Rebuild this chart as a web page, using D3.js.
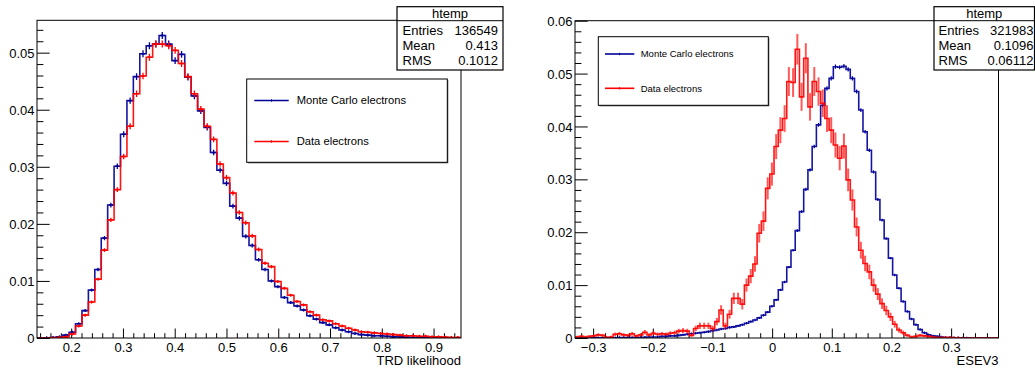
<!DOCTYPE html>
<html><head><meta charset="utf-8">
<script src="https://cdn.jsdelivr.net/npm/d3@7"></script>
<style>
body{margin:0;background:#fff;}
svg text{font-family:"Liberation Sans", Arial, Helvetica, sans-serif;fill:#000;}
</style></head><body>
<svg id="c" width="1035" height="369"></svg>
<script>
// ---------------- DATA ----------------
const legendLabels = ["Monte Carlo electrons", "Data electrons"];

// Left: TRD likelihood, 66 bins
const leftBinRange = [0.134, 0.953];
const leftMC = [0,0.00005,0.0001,0.0002,0.0005,0.001,0.0025,0.0048,0.0084,0.012,
  0.0175,0.0233,0.0301,0.0357,0.0416,0.0458,0.0498,0.0512,0.0515,0.053,
  0.0515,0.0486,0.0497,0.0457,0.0424,0.0398,0.0369,0.0325,0.0294,0.0271,
  0.0231,0.021,0.0178,0.0162,0.0137,0.012,0.01,0.009,0.0071,0.0062,
  0.0056,0.0049,0.0039,0.0033,0.0027,0.0023,0.0018,0.0014,0.0011,0.0008,
  0.0006,0.0005,0.0004,0.0004,0.0003,0.0002,0.0002,0.00015,0.0001,0.0001,
  0.0001,0.00005,0.00005,0.00003,0.00003,0.00002];
const leftData = [0,0,0.00005,0.0001,0.0002,0.0007,0.0021,0.004,0.0063,0.0103,
  0.0154,0.0207,0.026,0.0318,0.0371,0.0428,0.0459,0.0492,0.0515,0.0515,
  0.0512,0.0504,0.0481,0.0458,0.0428,0.0401,0.0371,0.0348,0.0305,0.0281,
  0.0254,0.022,0.0202,0.0179,0.0155,0.0131,0.0125,0.0099,0.0087,0.0075,
  0.0064,0.0058,0.0046,0.004,0.0032,0.003,0.0025,0.0021,0.0017,0.0014,
  0.0011,0.001,0.0009,0.0008,0.0007,0.0006,0.0005,0.0004,0.0004,0.0003,
  0.0003,0.0002,0.0002,0.00015,0.0001,0.0001];
const leftXTicks = [0.2,0.3,0.4,0.5,0.6,0.7,0.8,0.9];
const leftYTicks = [0,0.01,0.02,0.03,0.04,0.05];
const leftYMax = 0.05567;
const leftXTitle = "TRD likelihood";
const leftStats = [["Entries","136549"],["Mean","0.413"],["RMS","0.1012"]];
const leftEntries = 136549;

// Right: ESEV3, 100 bins
const rightBinRange = [-0.3304, 0.3794];
const rightMC = [0,0,0,0,0.00005,0.00005,0.00005,0.00005,0.00005,0.00005,
  0.0001,0.0001,0.0001,0.0001,0.0001,0.0001,0.00015,0.0002,0.0002,0.0002,
  0.0003,0.0003,0.0004,0.0004,0.0005,0.0006,0.0007,0.0008,0.0009,0.001,
  0.0011,0.0012,0.0014,0.0015,0.0017,0.0018,0.002,0.0021,0.0023,0.0025,
  0.0028,0.0031,0.0034,0.0038,0.0043,0.0049,0.006,0.0072,0.0091,0.0106,
  0.0134,0.0166,0.0203,0.0239,0.0281,0.0318,0.0362,0.0403,0.044,0.0472,
  0.0491,0.0513,0.0512,0.0514,0.0508,0.0491,0.0466,0.0431,0.039,0.0355,
  0.0314,0.0262,0.0223,0.0188,0.0151,0.0119,0.0094,0.0069,0.005,0.0036,
  0.0025,0.0016,0.001,0.0006,0.0004,0.0003,0.0002,0.0001,0.0001,0.00005,
  0.00005,0.00003,0.00002,0,0,0,0,0,0,0];
const rightData = [0.0002,0.0003,0.0002,0.0003,0.0004,0.0006,0.0005,0.0001,0.0002,0.0007,
  0.0008,0.0006,0.0005,0.0008,0.0004,0.0006,0.0011,0.0006,0.0009,0.0007,
  0.0008,0.0007,0.0009,0.001,0.0013,0.0014,0.0013,0.0005,0.0018,0.0023,
  0.0023,0.0023,0.0018,0.0031,0.0053,0.0023,0.0045,0.0075,0.0075,0.0064,
  0.01,0.0117,0.014,0.0198,0.0221,0.0283,0.031,0.0362,0.0393,0.0415,
  0.0485,0.0483,0.0546,0.0456,0.0529,0.0437,0.0485,0.0466,0.0444,0.0415,
  0.0393,0.0365,0.034,0.0363,0.0299,0.0261,0.021,0.0166,0.0141,0.0125,
  0.01,0.0083,0.0065,0.0052,0.004,0.0026,0.0015,0.001,0.0005,0.0002,
  0.0003,0.0005,0.0004,0.0003,0.0002,0.0001,0.0001,0.0001,0.0001,0.00005,
  0.00005,0,0,0,0,0,0,0,0,0];
const rightXTicks = [-0.3,-0.2,-0.1,0,0.1,0.2,0.3];
const rightYTicks = [0,0.01,0.02,0.03,0.04,0.05,0.06];
const rightYMax = 0.06;
const rightXTitle = "ESEV3";
const rightStats = [["Entries","321983"],["Mean","0.1096"],["RMS","0.06112"]];
const rightEntries = 321983;
const rightDataEntries = 6500; // estimated from error bar size

// ---------------- DRAW ----------------
const svg = d3.select("#c");
const BLUE = "#000099", RED = "#ff0000";
const fmt = d3.format("~g");

function drawPanel(c) {
  const g = svg.append("g");
  const x = d3.scaleLinear().domain(c.binRange).range([c.frame.x0, c.frame.x1]);
  const y = d3.scaleLinear().domain([0, c.yMax]).range([c.frame.y1, c.frame.y0]);
  const nb = c.mc.length;
  const w = (c.binRange[1] - c.binRange[0]) / nb;
  const edges = d3.range(nb + 1).map(i => c.binRange[0] + i * w);

  const clipId = "clip" + c.id;
  svg.append("clipPath").attr("id", clipId).append("rect")
    .attr("x", c.frame.x0).attr("y", c.frame.y0)
    .attr("width", c.frame.x1 - c.frame.x0).attr("height", c.frame.y1 - c.frame.y0);

  const xMinor = d3.range(Math.ceil(c.binRange[0] / 0.02 - 1e-6), Math.floor(c.binRange[1] / 0.02 + 1e-6) + 1)
    .map(k => +(k * 0.02).toFixed(4)).filter(v => !c.xTicks.some(t => Math.abs(t - v) < 1e-6));
  const yMinor = d3.range(0, Math.floor(c.yMax / 0.002 + 1e-6) + 1)
    .map(k => +(k * 0.002).toFixed(4)).filter(v => !c.yTicks.some(t => Math.abs(t - v) < 1e-6));

  const ax = g.append("g").attr("transform", `translate(0,${c.frame.y1})`)
    .call(d3.axisBottom(x).tickValues(c.xTicks).tickSize(-9.5).tickPadding(4.3).tickFormat(fmt));
  const axm = g.append("g").attr("transform", `translate(0,${c.frame.y1})`)
    .call(d3.axisBottom(x).tickValues(xMinor).tickSize(-4.8).tickFormat(""));
  const ay = g.append("g").attr("transform", `translate(${c.frame.x0},0)`)
    .call(d3.axisLeft(y).tickValues(c.yTicks).tickSize(-12.7).tickPadding(2.5).tickFormat(fmt));
  const aym = g.append("g").attr("transform", `translate(${c.frame.x0},0)`)
    .call(d3.axisLeft(y).tickValues(yMinor).tickSize(-6.4).tickFormat(""));
  [ax, axm, ay, aym].forEach(a => {
    a.select(".domain").remove();
    a.selectAll("line").attr("stroke", "#000").attr("stroke-width", 1);
    a.selectAll("text").attr("font-size", 13).attr("font-family", "Liberation Sans, Arial, sans-serif").attr("fill", "#000");
  });
  ay.selectAll("text").attr("dy", "0.35em");

  const line = d3.line().x(d => x(d[0])).y(d => y(d[1])).curve(d3.curveStepAfter);
  const series = [
    {vals: c.mc, color: BLUE, n: c.nMC, err: c.mcErr},
    {vals: c.data, color: RED, n: c.nData, err: c.dataErr}
  ];
  const hg = g.append("g").attr("clip-path", `url(#${clipId})`);
  series.forEach(s => {
    const pts = s.vals.map((v, i) => [edges[i], v]);
    pts.push([edges[nb], s.vals[nb - 1]]);
    const eg = hg.append("g");
    s.vals.forEach((v, i) => {
      if (v <= 0) return;
      const cx = x((edges[i] + edges[i + 1]) / 2);
      const e = Math.sqrt(v / s.n);
      const half = Math.max(s.err.minHalf, y(v) - y(v + e));
      eg.append("line").attr("x1", cx).attr("x2", cx)
        .attr("y1", y(v) - half).attr("y2", y(v) + half)
        .attr("stroke", s.color).attr("stroke-width", s.err.width).attr("opacity", s.err.opacity);
      if (s.err.hx > 0) {
        eg.append("line").attr("x1", cx - s.err.hx).attr("x2", cx + s.err.hx)
          .attr("y1", y(v)).attr("y2", y(v))
          .attr("stroke", s.color).attr("stroke-width", 1.4);
      }
    });
    hg.append("path").attr("d", line(pts)).attr("fill", "none")
      .attr("stroke", s.color).attr("stroke-width", 1.6).attr("opacity", 0.92);
  });

  g.append("rect").attr("x", c.frame.x0).attr("y", c.frame.y0)
    .attr("width", c.frame.x1 - c.frame.x0).attr("height", c.frame.y1 - c.frame.y0)
    .attr("fill", "none").attr("stroke", "#000").attr("stroke-width", 1);

  g.append("text").attr("x", c.frame.x1).attr("y", 365).attr("text-anchor", "end")
    .attr("font-size", 13).text(c.xTitle);

  const L = c.legend;
  g.append("rect").attr("x", L.x0 + 1).attr("y", L.y0 + 1).attr("width", L.x1 - L.x0).attr("height", L.y1 - L.y0)
    .attr("fill", "#555");
  g.append("rect").attr("x", L.x0).attr("y", L.y0).attr("width", L.x1 - L.x0).attr("height", L.y1 - L.y0)
    .attr("fill", "#fff").attr("stroke", "#000").attr("stroke-width", 1);
  [BLUE, RED].forEach((col, i) => {
    const yy = L.rows[i];
    g.append("line").attr("x1", L.lx0).attr("x2", L.lx1).attr("y1", yy).attr("y2", yy)
      .attr("stroke", col).attr("stroke-width", 1.6);
    const mx = (L.lx0 + L.lx1) / 2;
    g.append("line").attr("x1", mx).attr("x2", mx).attr("y1", yy - 1.2).attr("y2", yy + 1.2)
      .attr("stroke", col).attr("stroke-width", 1);
    g.append("text").attr("x", L.tx).attr("y", yy).attr("dy", "0.35em")
      .attr("font-size", L.fs).text(legendLabels[i]);
  });

  const S = c.stats;
  g.append("rect").attr("x", S.x0).attr("y", S.y0).attr("width", S.x1 - S.x0).attr("height", S.y1 - S.y0)
    .attr("fill", "#fff").attr("stroke", "#000").attr("stroke-width", 1.2);
  g.append("line").attr("x1", S.x0).attr("x2", S.x1).attr("y1", S.sep).attr("y2", S.sep)
    .attr("stroke", "#000").attr("stroke-width", 1);
  g.append("text").attr("x", (S.x0 + S.x1) / 2).attr("y", 17.6).attr("text-anchor", "middle")
    .attr("font-size", 13).text("htemp");
  c.statRows.forEach((r, i) => {
    const yy = S.rows[i];
    g.append("text").attr("x", S.lx).attr("y", yy).attr("font-size", 13).text(r[0]);
    g.append("text").attr("x", S.rx).attr("y", yy).attr("text-anchor", "end").attr("font-size", 13).text(r[1]);
  });
}

drawPanel({
  id: "L", binRange: leftBinRange, mc: leftMC, data: leftData, yMax: leftYMax,
  xTicks: leftXTicks, yTicks: leftYTicks, xTitle: leftXTitle, statRows: leftStats,
  nMC: leftEntries, nData: leftEntries,
  mcErr: {minHalf: 1.5, width: 1.3, opacity: 1, hx: 2.2},
  dataErr: {minHalf: 1.5, width: 1.3, opacity: 1, hx: 2.2},
  frame: {x0: 37, x1: 461, y0: 20.3, y1: 338},
  legend: {x0: 246.7, x1: 447.3, y0: 79, y1: 162.3, lx0: 254.3, lx1: 288.7, tx: 296.7, rows: [100.5, 141.5], fs: 11.2},
  stats: {x0: 397, x1: 503, y0: 6.7, y1: 70, sep: 20.7, lx: 402.5, rx: 498, rows: [34.8, 50, 65.2]}
});
drawPanel({
  id: "R", binRange: rightBinRange, mc: rightMC, data: rightData, yMax: rightYMax,
  xTicks: rightXTicks, yTicks: rightYTicks, xTitle: rightXTitle, statRows: rightStats,
  nMC: rightEntries, nData: rightDataEntries,
  mcErr: {minHalf: 1.2, width: 1.2, opacity: 1, hx: 0},
  dataErr: {minHalf: 1.2, width: 2, opacity: 0.65, hx: 0},
  frame: {x0: 575, x1: 998.5, y0: 20.7, y1: 338},
  legend: {x0: 598.3, x1: 768.3, y0: 36.7, y1: 105.3, lx0: 605, lx1: 634.3, tx: 640.7, rows: [54, 88.3], fs: 9.5},
  stats: {x0: 934, x1: 1034.5, y0: 6.7, y1: 70, sep: 20.7, lx: 938.5, rx: 1033.5, rows: [34.8, 50, 65.2]}
});
</script>
</body></html>
